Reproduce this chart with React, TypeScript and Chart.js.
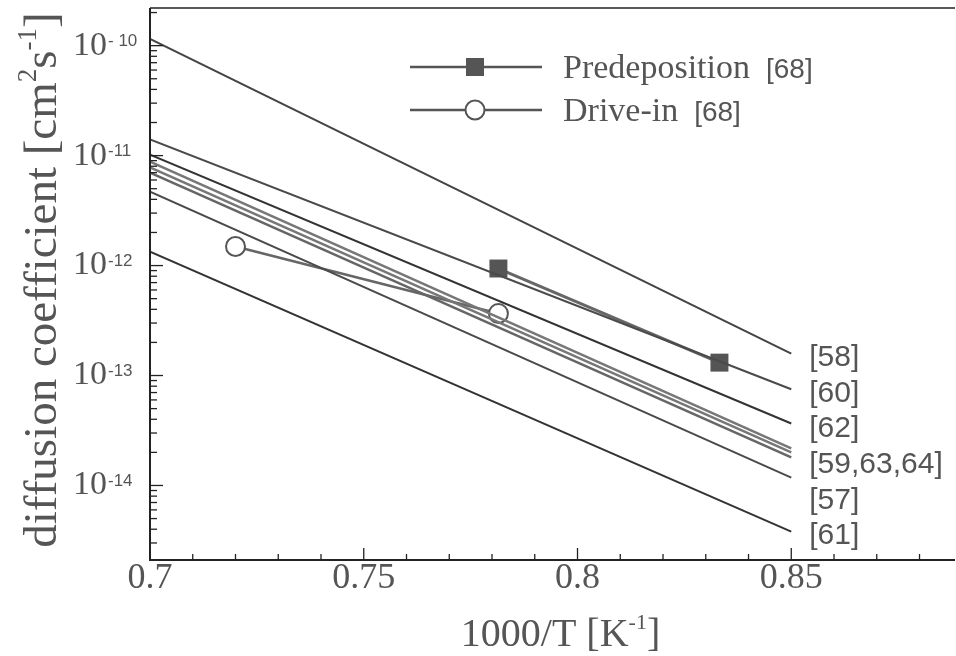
import React, { useEffect, useRef } from "react";
import { Chart, registerables } from "chart.js";

Chart.register(...registerables);

// ---- data ----
const lineX = [0.7, 0.85];
const lineLabels = ["[58]", "[60]", "[62]", "[59,63,64]", "[57]", "[61]"];
const line58 = [1.15e-10, 1.58e-13];
const line60 = [1.4e-11, 7.5e-14];
const line62 = [1.02e-11, 3.66e-14];
const line59 = [8.8e-12, 2.17e-14];
const line63 = [7.8e-12, 2.0e-14];
const line64 = [7.0e-12, 1.8e-14];
const line57 = [4.7e-12, 1.18e-14];
const line61 = [1.34e-12, 3.8e-15];

const predepX = [0.7815, 0.8332];
const predepY = [9.4e-13, 1.31e-13];
const driveX = [0.72, 0.7815];
const driveY = [1.49e-12, 3.66e-13];

const xMajorTicks = [0.7, 0.75, 0.8, 0.85];
const xMajorLabels = ["0.7", "0.75", "0.8", "0.85"];
const yDecades = [-14, -13, -12, -11, -10];
const yDecadeLabels = ["-14", "-13", "-12", "-11", "- 10"];

const X_MIN = 0.7;
const X_MAX = 0.8883;
const Y_MIN = 2.1e-15;
const Y_MAX = 2.2e-10;

const SERIF = "'Liberation Serif', 'DejaVu Serif', serif";
const SANS = "'Liberation Sans', Arial, sans-serif";
const TEXT = "#555";

function pts(xs: number[], ys: number[]) {
  return xs.map((x, i) => ({ x, y: ys[i] }));
}

type Part = { t: string; sup?: boolean };

function richWidth(ctx: CanvasRenderingContext2D, parts: Part[], size: number, supSize: number) {
  let w = 0;
  for (const p of parts) {
    ctx.font = `${p.sup ? supSize : size}px ${SERIF}`;
    w += ctx.measureText(p.t).width;
  }
  return w;
}

function drawRich(ctx: CanvasRenderingContext2D, parts: Part[], cx: number, baseline: number, size: number, supSize: number) {
  const w = richWidth(ctx, parts, size, supSize);
  let x = cx - w / 2;
  ctx.textAlign = "left";
  ctx.textBaseline = "alphabetic";
  for (const p of parts) {
    ctx.font = `${p.sup ? supSize : size}px ${SERIF}`;
    ctx.fillText(p.t, x, p.sup ? baseline - size * 0.42 : baseline);
    x += ctx.measureText(p.t).width;
  }
}

const decor = {
  id: "decor",
  afterDraw(chart: any) {
    const ctx: CanvasRenderingContext2D = chart.ctx;
    const xs = chart.scales.x;
    const ys = chart.scales.y;
    const { left, right, top, bottom } = chart.chartArea;
    ctx.save();

    // frame
    ctx.strokeStyle = "#222";
    ctx.lineWidth = 2;
    ctx.beginPath();
    ctx.moveTo(left, top);
    ctx.lineTo(left, bottom);
    ctx.lineTo(right, bottom);
    ctx.stroke();
    ctx.lineWidth = 1.5;
    ctx.beginPath();
    ctx.moveTo(left, top);
    ctx.lineTo(right, top);
    ctx.stroke();

    // x ticks
    ctx.lineWidth = 1.3;
    for (let i = 0; i <= 18; i++) {
      const v = 0.7 + i * 0.01;
      const px = xs.getPixelForValue(v);
      const major = i % 5 === 0;
      ctx.beginPath();
      ctx.moveTo(px, bottom);
      ctx.lineTo(px, bottom - (major ? 12 : 6));
      ctx.stroke();
    }
    // y ticks
    for (let d = -15; d <= -10; d++) {
      for (let m = 1; m <= 9; m++) {
        const v = m * Math.pow(10, d);
        if (v < Y_MIN || v > Y_MAX) continue;
        const py = ys.getPixelForValue(v);
        ctx.beginPath();
        ctx.moveTo(left, py);
        ctx.lineTo(left + (m === 1 ? 13 : 7), py);
        ctx.stroke();
      }
    }

    ctx.fillStyle = TEXT;
    // x tick labels
    ctx.font = `36px ${SERIF}`;
    ctx.textAlign = "center";
    ctx.textBaseline = "middle";
    xMajorTicks.forEach((v, i) => {
      ctx.fillText(xMajorLabels[i], xs.getPixelForValue(v), bottom + 19);
    });

    // y tick labels
    yDecades.forEach((d, i) => {
      const py = ys.getPixelForValue(Math.pow(10, d));
      ctx.font = `34px ${SERIF}`;
      ctx.textAlign = "left";
      ctx.textBaseline = "middle";
      ctx.fillText("10", left - 77, py);
      ctx.font = `17px ${SANS}`;
      ctx.textBaseline = "top";
      ctx.fillText(yDecadeLabels[i], left - 42, py - 13);
    });

    // x title
    drawRich(
      ctx,
      [{ t: "1000/T [K" }, { t: "-1", sup: true }, { t: "]" }],
      (left + right) / 2 + 8,
      646,
      40,
      22
    );

    // y title
    ctx.save();
    ctx.translate(56, (top + bottom) / 2 - 4);
    ctx.rotate(-Math.PI / 2);
    drawRich(
      ctx,
      [
        { t: "diffusion coefficient [cm" },
        { t: "2", sup: true },
        { t: "s" },
        { t: "-1", sup: true },
        { t: "]" },
      ],
      0,
      0,
      47,
      27
    );
    ctx.restore();

    // right-hand labels
    ctx.font = `30px ${SANS}`;
    ctx.textAlign = "left";
    ctx.textBaseline = "middle";
    const lx = xs.getPixelForValue(lineX[1]) + 18;
    const ly0 = ys.getPixelForValue(line58[1]) + 4;
    lineLabels.forEach((t, i) => {
      ctx.fillText(t, lx, ly0 + i * 35.7);
    });

    // legend
    const legendItems = [
      { name: "Predeposition", ref: "[68]", y: 67, square: true },
      { name: "Drive-in", ref: "[68]", y: 110, square: false },
    ];
    legendItems.forEach((it) => {
      ctx.strokeStyle = "#555";
      ctx.lineWidth = 2.5;
      ctx.beginPath();
      ctx.moveTo(410, it.y);
      ctx.lineTo(542, it.y);
      ctx.stroke();
      if (it.square) {
        ctx.fillStyle = "#555";
        ctx.fillRect(475 - 9, it.y - 9, 18, 18);
      } else {
        ctx.fillStyle = "#fff";
        ctx.lineWidth = 2;
        ctx.beginPath();
        ctx.arc(475, it.y, 9.5, 0, Math.PI * 2);
        ctx.fill();
        ctx.stroke();
      }
      ctx.fillStyle = TEXT;
      ctx.font = `34px ${SERIF}`;
      ctx.textBaseline = "alphabetic";
      ctx.textAlign = "left";
      ctx.fillText(it.name, 563, it.y + 11);
      const w = ctx.measureText(it.name).width;
      ctx.font = `28px ${SANS}`;
      ctx.fillText(it.ref, 563 + w + 16, it.y + 11);
    });

    ctx.restore();
  },
};

export default function App() {
  const ref = useRef<HTMLCanvasElement | null>(null);
  useEffect(() => {
    if (!ref.current) return;
    const mk = (data: number[], color: string, width: number) => ({
      data: pts(lineX, data),
      borderColor: color,
      borderWidth: width,
      pointRadius: 0,
      showLine: true,
    });
    const chart = new Chart(ref.current, {
      type: "scatter",
      data: {
        datasets: [
          mk(line58, "#444", 2),
          mk(line60, "#4a4a4a", 2),
          mk(line62, "#333", 2),
          mk(line59, "#777", 2.5),
          mk(line63, "#777", 2.5),
          mk(line64, "#666", 2.5),
          mk(line57, "#4a4a4a", 2),
          mk(line61, "#333", 2),
          {
            data: pts(driveX, driveY),
            borderColor: "#666",
            borderWidth: 2.5,
            showLine: true,
            pointStyle: "circle",
            pointRadius: 9.5,
            pointBorderWidth: 2,
            pointBackgroundColor: "#fff",
            pointBorderColor: "#555",
          },
          {
            data: pts(predepX, predepY),
            borderColor: "#666",
            borderWidth: 3,
            showLine: true,
            pointStyle: "rect",
            pointRadius: 12.7,
            pointBorderWidth: 0,
            pointBackgroundColor: "#555",
            pointBorderColor: "#555",
          },
        ] as any,
      },
      options: {
        responsive: false,
        animation: false,
        devicePixelRatio: 1,
        layout: { autoPadding: false, padding: { left: 150, top: 8, right: 1, bottom: 96 } },
        scales: {
          x: { type: "linear", min: X_MIN, max: X_MAX, display: false },
          y: { type: "logarithmic", min: Y_MIN, max: Y_MAX, display: false },
        },
        plugins: {
          legend: { display: false },
          tooltip: { enabled: false },
        },
      } as any,
      plugins: [decor],
    });
    return () => chart.destroy();
  }, []);
  return (
    <div style={{ position: "fixed", left: 0, top: 0, width: 956, height: 656, background: "#fff" }}>
      <canvas ref={ref} width={956} height={656} style={{ width: 956, height: 656 }} />
    </div>
  );
}
